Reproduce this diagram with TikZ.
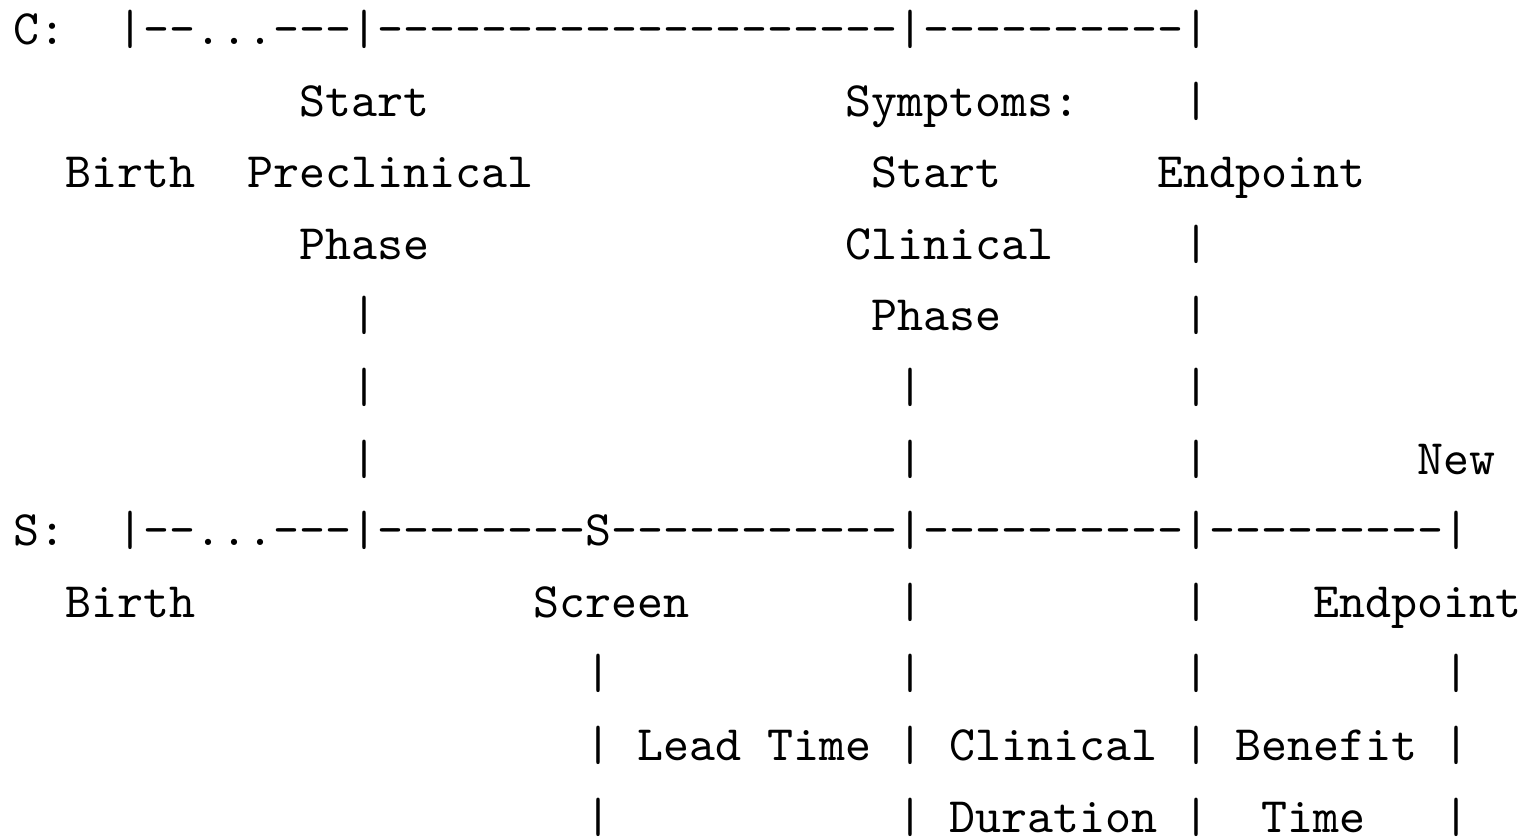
\documentclass[tikz,border=0pt]{standalone}
\newcommand\dashes[1]{\foreach \i in {1,...,#1}{\mbox{-}}}
\newcommand\putt[4]{\node[tt] (#1) at ({13.5+26.0*#2},{44.5+71.6*(#3-1)}) {#4};}
\tikzset{tt/.style={inner sep=0pt, outer sep=0pt, anchor=base west,
  font=\fontsize{10}{12}\selectfont\ttfamily}}
\begin{document}
\begin{tikzpicture}[x=0.2019pt,y=-0.2019pt]
\useasboundingbox (0,0) rectangle (1526,838);
% line 1: clinical time line
\putt{cLabel}{0}{1}{C:}
\putt{cLine}{4}{1}{|\dashes{2}...\dashes{3}|\dashes{20}|\dashes{10}|}
% line 2
\putt{startA}{11}{2}{Start}
\putt{symptoms}{32}{2}{Symptoms:}
\putt{barA2}{45}{2}{|}
% line 3
\putt{birthC}{2}{3}{Birth}
\putt{preclin}{9}{3}{Preclinical}
\putt{startB}{33}{3}{Start}
\putt{endpointC}{44}{3}{Endpoint}
% line 4
\putt{phaseA}{11}{4}{Phase}
\putt{clinicalA}{32}{4}{Clinical}
\putt{barA4}{45}{4}{|}
% line 5
\putt{barP5}{13}{5}{|}
\putt{phaseB}{33}{5}{Phase}
\putt{barA5}{45}{5}{|}
% line 6
\putt{barP6}{13}{6}{|}
\putt{barS6}{34}{6}{|}
\putt{barA6}{45}{6}{|}
% line 7
\putt{barP7}{13}{7}{|}
\putt{barS7}{34}{7}{|}
\putt{barA7}{45}{7}{|}
\putt{newA}{54}{7}{New}
% line 8: screened time line
\putt{sLabel}{0}{8}{S:}
\putt{sLine}{4}{8}{|\dashes{2}...\dashes{3}|\dashes{8}S\dashes{11}|\dashes{10}|\dashes{9}|}
% line 9
\putt{birthS}{2}{9}{Birth}
\putt{screen}{20}{9}{Screen}
\putt{barS9}{34}{9}{|}
\putt{barA9}{45}{9}{|}
\putt{endpointS}{50}{9}{Endpoint}
% line 10
\putt{barX10}{22}{10}{|}
\putt{barS10}{34}{10}{|}
\putt{barA10}{45}{10}{|}
\putt{barN10}{55}{10}{|}
% line 11
\putt{barX11}{22}{11}{|}
\putt{lead}{24}{11}{Lead Time}
\putt{barS11}{34}{11}{|}
\putt{clinicalB}{36}{11}{Clinical}
\putt{barA11}{45}{11}{|}
\putt{benefit}{47}{11}{Benefit}
\putt{barN11}{55}{11}{|}
% line 12
\putt{barX12}{22}{12}{|}
\putt{barS12}{34}{12}{|}
\putt{duration}{36}{12}{Duration}
\putt{barA12}{45}{12}{|}
\putt{timeB}{48}{12}{Time}
\putt{barN12}{55}{12}{|}
\end{tikzpicture}
\end{document}
